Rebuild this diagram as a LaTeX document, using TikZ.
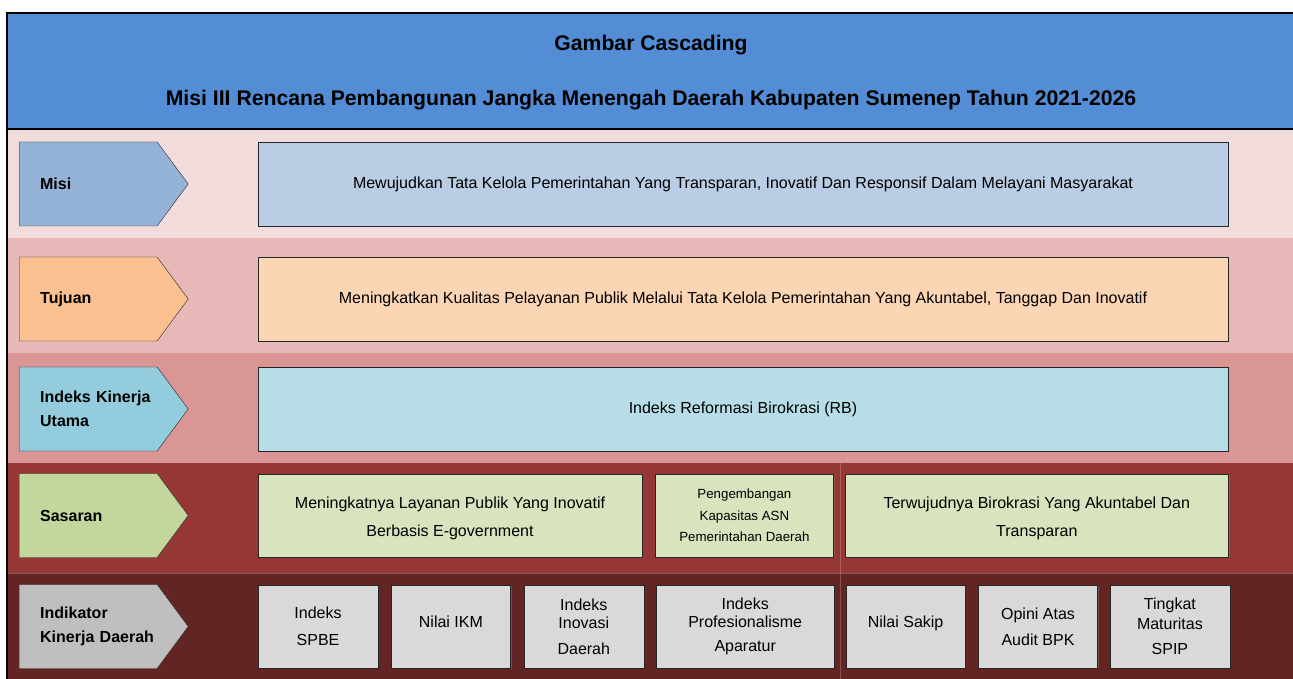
\documentclass[tikz,border=0pt]{standalone}
\usepackage{fontspec}
\setmainfont{Liberation Sans}
\usepackage{xcolor}
\usetikzlibrary{shapes.symbols,positioning,shadows}

\begin{document}
\begin{tikzpicture}[x=1pt,y=-1pt,node distance=13pt]
    \definecolor{myhead}{RGB}{83,141,213}
    \definecolor{rowa}{RGB}{242,220,219}
    \definecolor{rowb}{RGB}{230,185,184}
    \definecolor{rowc}{RGB}{217,150,148}
    \definecolor{rowd}{RGB}{149,55,53}
    \definecolor{rowe}{RGB}{99,37,35}
    \definecolor{tagblue}{RGB}{149,179,215}
    \definecolor{boxblue}{RGB}{185,205,229}
    \definecolor{tagorange}{RGB}{250,192,144}
    \definecolor{boxorange}{RGB}{252,213,181}
    \definecolor{tagcyan}{RGB}{147,205,221}
    \definecolor{boxcyan}{RGB}{183,222,232}
    \definecolor{taggreen}{RGB}{195,214,155}
    \definecolor{boxgreen}{RGB}{215,228,189}
    \definecolor{taggray}{RGB}{191,191,191}
    \definecolor{boxgray}{RGB}{217,217,217}

    \tikzstyle{tag}=[signal,signal to=east,signal pointer angle=107,draw=black!85,thin,
        minimum height=84pt,minimum width=169pt,text width=96pt,inner xsep=0pt,
        align=left,font=\fontsize{16}{24.5}\selectfont\bfseries,anchor=west]  % label kiri
    \tikzstyle{format}=[rectangle,draw=black!85,thin,minimum height=84pt,align=center,
        inner sep=0pt,font=\fontsize{16}{28}\selectfont,
        drop shadow={shadow xshift=1.2pt,shadow yshift=-1.2pt,opacity=.45}]  % kotak isi
    \tikzstyle{ind}=[format,minimum width=120pt,minimum height=83pt,fill=boxgray,
        font=\fontsize{16}{18}\selectfont]

    \clip (0,0) rectangle (1293,679);
    % latar baris
    \fill[myhead] (7,13) rectangle (1300,129);
    \fill[rowa] (7,129) rectangle (1300,238);
    \fill[rowb] (7,238) rectangle (1300,353);
    \fill[rowc] (7,353) rectangle (1300,463);
    \fill[rowd] (7,463) rectangle (1300,573);
    \fill[rowe] (7,573) rectangle (1300,690);
    \draw[white,opacity=.25] (7,573) -- (1300,573);
    \draw[white,opacity=.2] (840,463) -- (840,690);
    \draw[line width=2pt] (1300,13) -- (7,13) -- (7,690);
    \draw[line width=2pt] (7,129) -- (1300,129);

    \node[font=\fontsize{21.2}{55}\selectfont\bfseries,align=center](title) at (651,73)
        {Gambar Cascading\\Misi III Rencana Pembangunan Jangka Menengah Daerah Kabupaten Sumenep Tahun 2021-2026};

    % label kiri
    \node[tag,fill=tagblue](misi) at (19,184){Misi};
    \node[tag,fill=tagorange](tujuan) at (19,299){Tujuan};
    \node[tag,fill=tagcyan](iku) at (19,409){\mbox{Indeks Kinerja}\\Utama};
    \node[tag,fill=taggreen](sasaran) at (19,515.5){Sasaran};
    \node[tag,fill=taggray](ikd) at (19,626.5){Indikator\\\mbox{Kinerja Daerah}};

    % isi baris
    \node[format,fill=boxblue,minimum width=970pt](misi1) at (743,184)
        {Mewujudkan Tata Kelola Pemerintahan Yang Transparan, Inovatif Dan Responsif Dalam Melayani Masyarakat};
    \node[format,fill=boxorange,minimum width=970pt](tujuan1) at (743,299)
        {Meningkatkan Kualitas Pelayanan Publik Melalui Tata Kelola Pemerintahan Yang Akuntabel, Tanggap Dan Inovatif};
    \node[format,fill=boxcyan,minimum width=970pt](iku1) at (743,409)
        {Indeks Reformasi Birokrasi (RB)};

    \node[format,fill=boxgreen,minimum width=384pt,minimum height=83pt,text height=45.5pt](sas1) at (450,515.5)
        {Meningkatnya Layanan Publik Yang Inovatif\\Berbasis E-government};
    \node[format,fill=boxgreen,minimum width=178pt,minimum height=83pt,
        font=\fontsize{13.3}{21.5}\selectfont,right=of sas1](sas2)
        {Pengembangan\\Kapasitas ASN\\Pemerintahan Daerah};
    \node[format,fill=boxgreen,minimum width=383pt,minimum height=83pt,text height=45.5pt,right=11.5pt of sas2](sas3)
        {Terwujudnya Birokrasi Yang Akuntabel Dan\\Transparan};

    \node[ind](ikd1) at (318,626.5){Indeks\\[9pt]SPBE};
    \node[ind,minimum width=119pt,text depth=10pt,right=of ikd1](ikd2){Nilai IKM};
    \node[ind,right=of ikd2](ikd3){Indeks\\Inovasi\\[8pt]Daerah};
    \node[ind,minimum width=178pt,right=12pt of ikd3](ikd4)
        {Indeks\\Profesionalisme\\[6pt]Aparatur};
    \node[ind,minimum width=119pt,text depth=10pt,right=11.5pt of ikd4](ikd5){Nilai Sakip};
    \node[ind,minimum width=119pt,right=of ikd5](ikd6)
        {Opini Atas\\[8pt]Audit BPK};
    \node[ind,right=12pt of ikd6](ikd7)
        {Tingkat\\[2pt]Maturitas\\[7pt]SPIP};
\end{tikzpicture}
\end{document}
